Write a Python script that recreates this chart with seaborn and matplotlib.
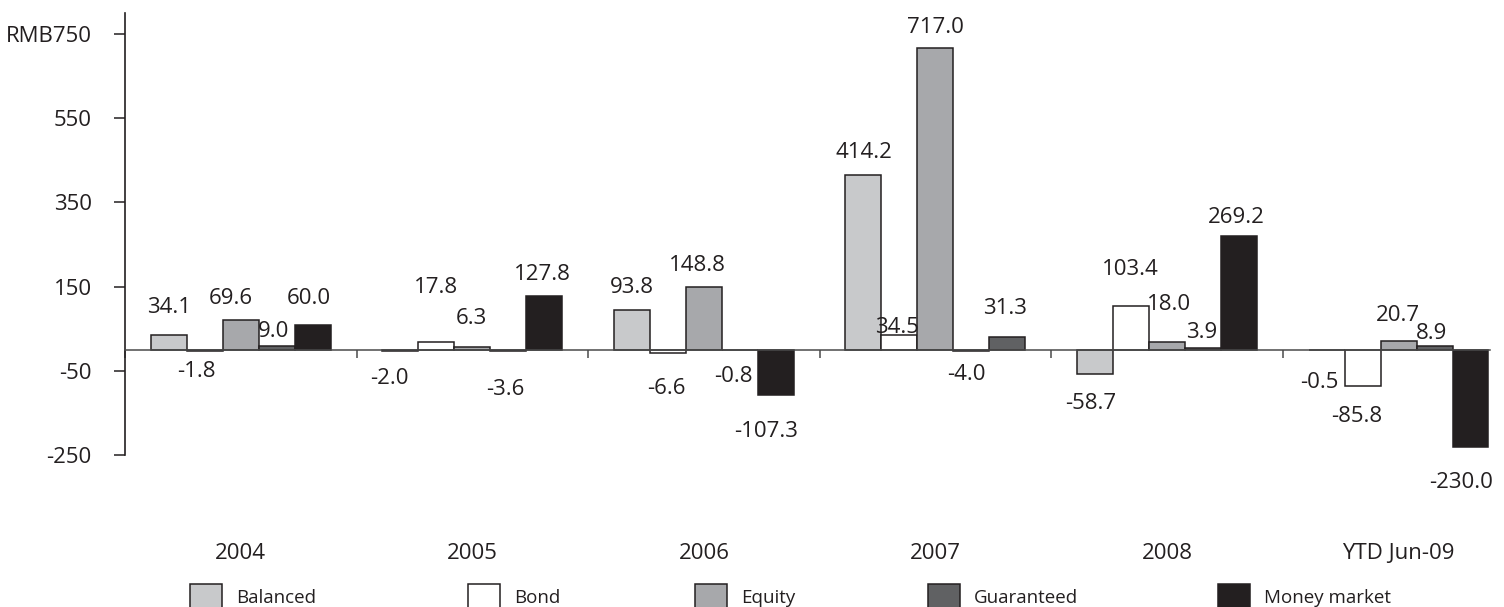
import matplotlib
matplotlib.use('Agg')
import matplotlib.pyplot as plt
import seaborn as sns
import pandas as pd

# ------------------------------------------------------------------
# Datos (RMB bn, flujos netos por tipo de fondo)
# ------------------------------------------------------------------
years = ["2004", "2005", "2006", "2007", "2008", "YTD Jun-09"]
balanced = [34.1, -2.0, 93.8, 414.2, -58.7, -0.5]
bond = [-1.8, 17.8, -6.6, 34.5, 103.4, -85.8]
equity = [69.6, 6.3, 148.8, 717.0, 18.0, 20.7]
guaranteed = [9.0, -3.6, -0.8, -4.0, 3.9, 8.9]
money_market = [60.0, 127.8, -107.3, 31.3, 269.2, -230.0]

series_names = ["Balanced", "Bond", "Equity", "Guaranteed", "Money market"]
y_ticks = [-250, -50, 150, 350, 550, 750]
y_ticklabels = ["-250", "-50", "150", "350", "550", "RMB750"]

# ------------------------------------------------------------------
# Estilo
# ------------------------------------------------------------------
colores = ["#c8c9cb", "#ffffff", "#a7a8ab", "#606163", "#231f20"]
ink = "#231f20"
fs = 16

# desplazamiento de cada etiqueta respecto al extremo de la barra (px: dx, dy)
label_offsets = [
    [(0, 30), (-11, -25), (0, 25), (0, 25), (-4, -27), (-7, -30)],
    [(-8, -18), (0, 57), (-2, -33), (-2, 10), (-1, 39), (-6, -28)],
    [(-10, 24), (-1, 31), (-7, 24), (0, 23), (2, 40), (-1, 28)],
    [(-3, 17), (-3, -36), (-6, -24), (-5, -21), (-1, 18), (-3, 15)],
    [(-4, 29), (-2, 24), (-10, -34), (-2, 31), (-3, 21), (-9, -33)],
]
# posición horizontal (px) de cada entrada de la leyenda
legend_x = [190, 468, 695, 928, 1218]

df = pd.DataFrame({"Year": years, "Balanced": balanced, "Bond": bond,
                   "Equity": equity, "Guaranteed": guaranteed,
                   "Money market": money_market})
df_long = df.melt(id_vars="Year", var_name="Fund", value_name="Value")

sns.set_theme(style="white")
plt.rcParams['font.family'] = ['Open Sans', 'DejaVu Sans']
plt.rcParams['text.color'] = ink

fig = plt.figure(figsize=(15.04, 6.07), dpi=100)
ax = fig.add_axes([125 / 1504, 1 - 455 / 607, (1490 - 125) / 1504, (455 - 13) / 607])

sns.barplot(data=df_long, x="Year", y="Value", hue="Fund", order=years,
            hue_order=series_names, palette=colores, width=0.777,
            edgecolor=ink, linewidth=1.1, saturation=1, ax=ax)

# en el original la barra de Money market 2007 aparece en gris oscuro
ax.containers[4][3].set_facecolor(colores[3])

# etiquetas de datos
for k, cont in enumerate(ax.containers):
    for j, bar in enumerate(cont):
        v = bar.get_height()
        x = bar.get_x() + bar.get_width() / 2
        dx, dy = label_offsets[k][j]
        ax.annotate(f"{v:.1f}", xy=(x, v), xytext=(dx * 0.72, dy * 0.72),
                    textcoords="offset points", ha="center",
                    va="center_baseline", fontsize=fs, color=ink)

# ejes
ax.set_xlim(-0.5, 5.395)
ax.set_ylim(-250, 800)
ax.set_yticks(y_ticks, y_ticklabels)
ax.set_xlabel("")
ax.set_ylabel("")

for s in ["top", "right"]:
    ax.spines[s].set_visible(False)
ax.spines["left"].set_color(ink)
ax.spines["left"].set_linewidth(1.2)
ax.spines["left"].set_bounds(-250, 800)
ax.spines["bottom"].set_position(("data", 0))
ax.spines["bottom"].set_color("#4a4a4a")
ax.spines["bottom"].set_linewidth(1.1)

ax.tick_params(axis="y", direction="out", length=8, width=1.1, color=ink,
               pad=16, labelsize=fs, labelcolor=ink, left=True)
ax.set_xticks(range(len(years)), years)
ax.set_xticks([i - 0.5 for i in range(len(years))], minor=True)
ax.tick_params(axis="x", which="major", length=0, pad=139,
               labelsize=fs, labelcolor=ink)
ax.tick_params(axis="x", which="minor", direction="out", length=6,
               width=1.1, color="#4a4a4a", bottom=True)

# leyenda: una entrada por serie, en la fila inferior
ax.get_legend().remove()
for k, name in enumerate(series_names):
    fig.legend([ax.containers[k][0]], [name], loc="upper left",
               bbox_to_anchor=(legend_x[k] / 1504, 1 - 584 / 607),
               frameon=False, fontsize=13.5, borderpad=0, borderaxespad=0,
               handlelength=1.7, handleheight=1.7, handletextpad=0.75)
# la entrada de Money market conserva el negro original
fig.legends[4].legend_handles[0].set_facecolor(colores[4])

fig.savefig("out.png", dpi=100)
plt.close(fig)
